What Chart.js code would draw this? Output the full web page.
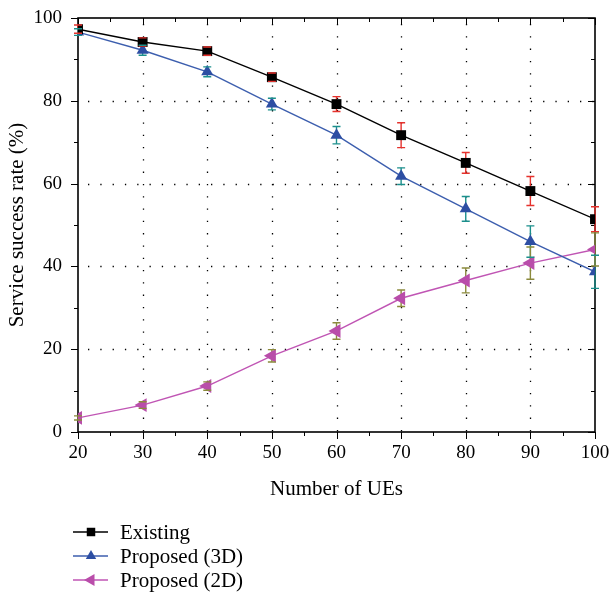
<!DOCTYPE html>
<html lang="en">
<head>
    <meta charset="UTF-8">
    <title>Service success rate vs number of UEs</title>
    <script src="https://cdn.jsdelivr.net/npm/chart.js@4.4.1/dist/chart.umd.min.js"></script>
    <style>
        html, body { margin: 0; padding: 0; background: #fff; }
        #wrap { width: 610px; height: 595px; }
    </style>
</head>
<body>
    <div id="wrap"><canvas id="chart" width="610" height="595"></canvas></div>

    <script>
        // Number of UEs on the x axis
        const ueCounts = [20, 30, 40, 50, 60, 70, 80, 90, 100];

        // Service success rate (%) and its spread for each scheme
        const existing = [97.3, 94.2, 92.0, 85.7, 79.2, 71.7, 65.0, 58.2, 51.4];
        const existingErr = [1.0, 1.0, 1.0, 1.0, 1.8, 3.0, 2.5, 3.5, 3.0];
        const proposed3D = [96.6, 92.2, 87.0, 79.2, 71.7, 61.8, 53.9, 46.0, 38.7];
        const proposed3DErr = [0.8, 1.2, 1.2, 1.4, 2.1, 2.0, 3.0, 3.8, 4.0];
        const proposed2D = [3.4, 6.5, 11.1, 18.4, 24.4, 32.3, 36.6, 40.8, 44.1];
        const proposed2DErr = [0.5, 0.8, 1.0, 1.5, 2.0, 2.0, 3.0, 3.9, 4.0];

        const seriesNames = ['Existing', 'Proposed (3D)', 'Proposed (2D)'];
        const xTicks = [20, 30, 40, 50, 60, 70, 80, 90, 100];
        const yTicks = [0, 20, 40, 60, 80, 100];

        const FONT = '"Liberation Serif", "DejaVu Serif", serif';

        const toPoints = (vals) => vals.map((v, i) => ({ x: ueCounts[i], y: v }));

        const datasets = [
            {
                label: seriesNames[0],
                data: toPoints(existing),
                errors: existingErr,
                errColor: '#e5322d',
                borderColor: '#000000',
                backgroundColor: '#000000',
                pointStyle: 'rect',
                pointRadius: 7,
                pointRotation: 0
            },
            {
                label: seriesNames[1],
                data: toPoints(proposed3D),
                errors: proposed3DErr,
                errColor: '#1b8f8c',
                borderColor: '#3c5eae',
                backgroundColor: '#2d4ea3',
                pointStyle: 'triangle',
                pointRadius: 7,
                pointRotation: 0
            },
            {
                label: seriesNames[2],
                data: toPoints(proposed2D),
                errors: proposed2DErr,
                errColor: '#8b8a3c',
                borderColor: '#c055b4',
                backgroundColor: '#b94daa',
                pointStyle: 'triangle',
                pointRadius: 8,
                pointRotation: -90
            }
        ].map((d) => Object.assign(d, {
            borderWidth: 1.4,
            pointBorderWidth: 0,
            pointBorderColor: d.backgroundColor,
            pointBackgroundColor: d.backgroundColor,
            pointHoverRadius: d.pointRadius,
            tension: 0
        }));

        // Dotted grid, box frame and tick marks
        const framePlugin = {
            id: 'frame',
            beforeDatasetsDraw(chart) {
                const { ctx, chartArea: a, scales: { x, y } } = chart;
                ctx.save();
                ctx.strokeStyle = '#000';
                ctx.lineWidth = 1.3;
                ctx.setLineDash([1.3, 11]);
                xTicks.slice(1, -1).forEach((v) => {
                    const px = Math.round(x.getPixelForValue(v)) + 0.5;
                    ctx.beginPath(); ctx.moveTo(px, a.top + 6); ctx.lineTo(px, a.bottom); ctx.stroke();
                });
                yTicks.slice(1, -1).forEach((v) => {
                    const py = Math.round(y.getPixelForValue(v)) + 0.5;
                    ctx.beginPath(); ctx.moveTo(a.left + 10, py); ctx.lineTo(a.right, py); ctx.stroke();
                });
                ctx.setLineDash([]);

                // ticks: outward on bottom/left, inward on top/right
                ctx.lineWidth = 1;
                for (let v = 20; v <= 100; v += 5) {
                    const px = Math.round(x.getPixelForValue(v)) + 0.5;
                    const len = v % 10 === 0 ? 7 : 4;
                    ctx.beginPath();
                    ctx.moveTo(px, a.bottom); ctx.lineTo(px, a.bottom + len);
                    ctx.moveTo(px, a.top); ctx.lineTo(px, a.top + len);
                    ctx.stroke();
                }
                for (let v = 0; v <= 100; v += 10) {
                    const py = Math.round(y.getPixelForValue(v)) + 0.5;
                    const len = v % 20 === 0 ? 7 : 4;
                    ctx.beginPath();
                    ctx.moveTo(a.left, py); ctx.lineTo(a.left - len, py);
                    ctx.moveTo(a.right, py); ctx.lineTo(a.right - len, py);
                    ctx.stroke();
                }

                ctx.lineWidth = 1.6;
                ctx.strokeRect(a.left, a.top, a.right - a.left, a.bottom - a.top);
                ctx.restore();
            }
        };

        // Error bars: stems under the markers, caps on top
        const errorBarPlugin = {
            id: 'errorBars',
            drawBars(chart, part) {
                const { ctx, scales: { x, y } } = chart;
                ctx.save();
                ctx.lineWidth = 1.4;
                chart.data.datasets.forEach((ds) => {
                    ctx.strokeStyle = ds.errColor;
                    ds.data.forEach((p, i) => {
                        const px = x.getPixelForValue(p.x);
                        const top = y.getPixelForValue(p.y + ds.errors[i]);
                        const bot = y.getPixelForValue(p.y - ds.errors[i]);
                        ctx.beginPath();
                        if (part === 'stem') {
                            ctx.moveTo(px, top); ctx.lineTo(px, bot);
                        } else {
                            ctx.moveTo(px - 4, top); ctx.lineTo(px + 4, top);
                            ctx.moveTo(px - 4, bot); ctx.lineTo(px + 4, bot);
                        }
                        ctx.stroke();
                    });
                });
                ctx.restore();
            },
            beforeDatasetsDraw(chart) { this.drawBars(chart, 'stem'); },
            afterDatasetsDraw(chart) { this.drawBars(chart, 'cap'); }
        };

        // Legend under the plot: line sample with marker, then the name
        const legendPlugin = {
            id: 'bottomLegend',
            afterDraw(chart) {
                const { ctx } = chart;
                ctx.save();
                ctx.font = '21px ' + FONT;
                ctx.textBaseline = 'middle';
                chart.data.datasets.forEach((ds, i) => {
                    const rowY = 532 + i * 24;
                    ctx.strokeStyle = ds.borderColor;
                    ctx.lineWidth = 1.4;
                    ctx.beginPath(); ctx.moveTo(73, rowY); ctx.lineTo(108, rowY); ctx.stroke();
                    ctx.fillStyle = ds.backgroundColor;
                    Chart.helpers.drawPoint(ctx, {
                        pointStyle: ds.pointStyle,
                        radius: ds.pointRadius - 1,
                        rotation: ds.pointRotation,
                        borderWidth: 0
                    }, 91, rowY);
                    ctx.fillStyle = '#000';
                    ctx.fillText(ds.label, 120, rowY + 1);
                });
                ctx.restore();
            }
        };

        new Chart(document.getElementById('chart'), {
            type: 'line',
            data: { datasets },
            options: {
                responsive: false,
                animation: false,
                events: [],
                layout: { padding: { left: 0, top: 18, right: 15, bottom: 93 } },
                plugins: { legend: { display: false }, tooltip: { enabled: false } },
                scales: {
                    x: {
                        type: 'linear',
                        min: 20,
                        max: 100,
                        afterBuildTicks: (s) => { s.ticks = xTicks.map((v) => ({ value: v })); },
                        afterFit: (s) => { s.height = 70; s.paddingLeft = 0; s.paddingRight = 0; },
                        grid: { display: false, drawTicks: false },
                        border: { display: false },
                        ticks: { color: '#000', padding: 10, font: { family: FONT, size: 19 } },
                        title: {
                            display: true,
                            text: 'Number of UEs',
                            color: '#000',
                            padding: 0,
                            font: { family: FONT, size: 21 }
                        }
                    },
                    y: {
                        type: 'linear',
                        min: 0,
                        max: 100,
                        afterBuildTicks: (s) => { s.ticks = yTicks.map((v) => ({ value: v })); },
                        afterFit: (s) => { s.width = 78; s.paddingTop = 0; s.paddingBottom = 0; },
                        grid: { display: false, drawTicks: false },
                        border: { display: false },
                        ticks: { color: '#000', padding: 16, font: { family: FONT, size: 19 } },
                        title: {
                            display: true,
                            text: 'Service success rate (%)',
                            color: '#000',
                            padding: { top: 5, bottom: 0 },
                            font: { family: FONT, size: 21 }
                        }
                    }
                }
            },
            plugins: [framePlugin, errorBarPlugin, legendPlugin]
        });
    </script>
</body>
</html>
